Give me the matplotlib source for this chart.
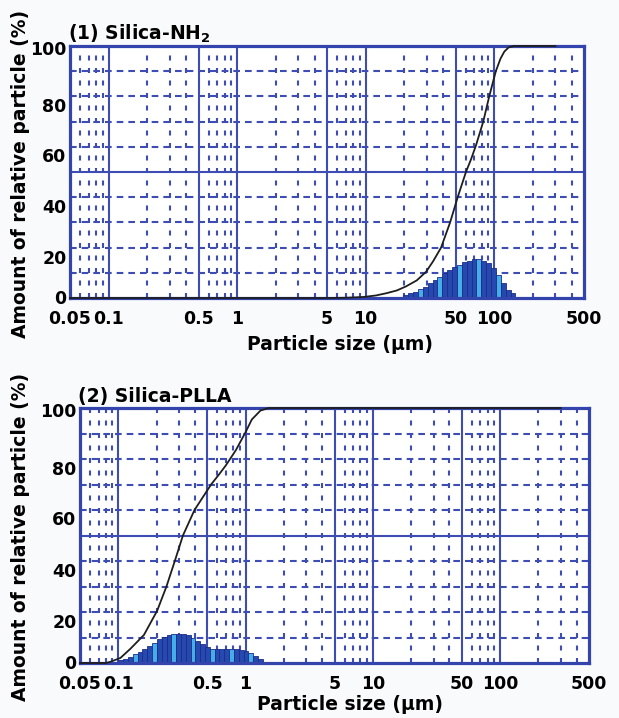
import matplotlib
matplotlib.use("Agg")
import matplotlib.pyplot as plt
import numpy as np

# ---------------- data ----------------
xtick_vals = [0.05, 0.1, 0.5, 1, 5, 10, 50, 100, 500]
xtick_labels = ["0.05", "0.1", "0.5", "1", "5", "10", "50", "100", "500"]
ytick_vals = [0, 20, 40, 60, 80, 100]
ytick_labels = ["0", "20", "40", "60", "80", "100"]

# (1) Silica-NH2 : frequency histogram (size in um, %)
nh2_sizes = [20.5, 22.4, 24.4, 26.6, 29.1, 31.7, 34.6, 37.8, 41.2, 45.0, 49.1, 53.6,
             58.5, 63.8, 69.6, 76.0, 82.9, 90.5, 98.7, 107.7, 117.6, 128.3, 140.0]
nh2_freq = [1.2, 1.85, 2.5, 3.4, 4.5, 5.8, 7.1, 8.5, 9.8, 11.1, 12.2, 13.2,
            14.2, 14.8, 15.3, 15.3, 14.8, 13.8, 11.8, 9.1, 5.8, 3.2, 1.85]
# cumulative curve
nh2_cum_size = [0.05, 5.0, 7.0, 9.6, 12.0, 14.5, 17.5, 20.6, 25.0, 29.5, 33.5, 38.6,
                45.4, 52.0, 60.3, 66.0, 72.1, 82.2, 91.5, 103.0, 112.0, 120.0, 130.0,
                143.0, 300.0]
nh2_cum = [0, 0, 0.1, 0.4, 1.0, 1.9, 3.0, 4.6, 7.0, 10.4, 14.6, 20.0,
           30.0, 40.0, 50.0, 55.0, 60.5, 70.0, 80.0, 90.0, 95.0, 97.8, 99.5,
           100.0, 100.0]

# (2) Silica-PLLA
plla_sizes = [0.104, 0.114, 0.124, 0.136, 0.148, 0.161, 0.176, 0.192, 0.210, 0.229,
              0.250, 0.272, 0.297, 0.324, 0.354, 0.386, 0.421, 0.460, 0.502, 0.547,
              0.597, 0.652, 0.711, 0.776, 0.847, 0.924, 1.008, 1.10, 1.20, 1.31]
plla_freq = [1.2, 1.7, 2.5, 3.4, 4.4, 5.5, 6.7, 8.0, 9.3, 10.3,
             11.0, 11.4, 11.5, 11.4, 10.9, 9.9, 8.8, 7.3, 6.1, 5.5,
             5.4, 5.4, 5.4, 5.4, 5.4, 5.2, 4.8, 3.8, 2.7, 1.7]
plla_cum_size = [0.05, 0.08, 0.087, 0.104, 0.124, 0.159, 0.202, 0.239, 0.278, 0.322,
                 0.397, 0.536, 0.62, 0.70, 0.84, 1.0, 1.12, 1.31, 1.52, 300.0]
plla_cum = [0, 0, 0.5, 2.0, 5.5, 11.0, 20.5, 30.0, 40.0, 50.0,
            60.0, 70.0, 74.0, 77.5, 83.5, 90.5, 95.5, 99.0, 100.0, 100.0]

# ---------------- style ----------------
plt.rcParams["font.family"] = "DejaVu Sans"
plt.rcParams["font.weight"] = "bold"
plt.rcParams["mathtext.default"] = "bf"
plt.rcParams["lines.scale_dashes"] = False

GRID = "#3d4db3"
SPINE = "#3444ad"
BAR_DARK = "#2549ae"
BAR_LIGHT = "#45aee8"
BAR_EDGE = "#1b2d8c"
CURVE = "#1e1e1e"
TICK_FS = 12.5
LAB_FS = 13.5

vgrid_solid = [0.1, 0.5, 1, 5, 10, 50, 100]
vgrid_dash = [0.06, 0.07, 0.08, 0.09, 0.2, 0.3, 0.4, 0.6, 0.7, 0.8, 0.9,
              2, 3, 4, 6, 7, 8, 9, 20, 30, 40, 60, 70, 80, 90, 200, 300, 400]
hgrid_dash = [10, 20, 30, 40, 60, 70, 80, 90]
ylab_offsets = [1, 11, 11, 10, 11, 4]  # px downward shift of y tick labels

W, H = 619, 718
fig = plt.figure(figsize=(W / 100, H / 100), dpi=100, facecolor="#f9fafc")


def panel(rect_px, sizes, freq, cs, cy, title, xlab_pos):
    l, t, r, b = rect_px
    ax = fig.add_axes([l / W, 1 - b / H, (r - l) / W, (b - t) / H])
    ax.set_facecolor("white")
    ax.set_xscale("log")
    ax.set_xlim(0.05, 500)
    ax.set_ylim(0, 100)

    for v in vgrid_solid:
        ax.axvline(v, color=GRID, lw=1.5, zorder=1)
    for v in vgrid_dash:
        ax.axvline(v, color=GRID, lw=1.5, ls=(0, (3.6, 5.4)), zorder=1)
    for h in hgrid_dash:
        ax.axhline(h, color=GRID, lw=1.5, ls=(0, (4.8, 3.6)), zorder=1)
    ax.axhline(50, color=GRID, lw=1.5, zorder=1)

    c = np.array(sizes)
    mids = np.sqrt(c[:-1] * c[1:])
    left = np.r_[c[0] ** 2 / mids[0], mids]
    right = np.r_[mids, c[-1] ** 2 / mids[-1]]
    cols = [BAR_LIGHT if i % 4 == 3 else BAR_DARK for i in range(len(c))]
    ax.bar(left, freq, width=right - left, align="edge", color=cols,
           edgecolor=BAR_EDGE, lw=0.6, zorder=2)

    ax.plot(cs, cy, color=CURVE, lw=1.3, zorder=4, clip_on=False)

    for s in ax.spines.values():
        s.set_color(SPINE)
        s.set_linewidth(2.3)

    ax.minorticks_off()
    ax.set_xticks(xtick_vals)
    ax.set_xticklabels(xtick_labels, fontsize=TICK_FS, fontweight="bold")
    ax.set_yticks([])
    ax.tick_params(axis="x", length=0, pad=8.5)
    ax.minorticks_off()

    for v, lbl, off in zip(ytick_vals, ytick_labels, ylab_offsets):
        ax.annotate(lbl, xy=(0, v), xycoords=("axes fraction", "data"),
                    xytext=(-2.5, -off * 0.72), textcoords="offset points",
                    ha="right", va="center", fontsize=TICK_FS, fontweight="bold",
                    annotation_clip=False)

    ax.annotate(title, xy=(0, 1), xycoords="axes fraction", xytext=(-1.5, 4.3),
                textcoords="offset points", ha="left", va="baseline",
                fontsize=LAB_FS, fontweight="bold")

    ax.set_xlabel("Particle size (µm)", fontsize=LAB_FS, fontweight="bold")
    ax.xaxis.set_label_coords(*xlab_pos)
    return ax


ax1 = panel((70, 46, 584, 298), nh2_sizes, nh2_freq, nh2_cum_size, nh2_cum,
            "(1) Silica-NH$_2$", (0.525, -0.145))
ax2 = panel((80, 408, 589, 663), plla_sizes, plla_freq, plla_cum_size, plla_cum,
            "(2) Silica-PLLA", (0.53, -0.125))

fig.text(21 / W, 1 - 174 / H, "Amount of relative particle (%)", rotation=90,
         ha="center", va="center", fontsize=LAB_FS, fontweight="bold")
fig.text(21 / W, 1 - 537 / H, "Amount of relative particle (%)", rotation=90,
         ha="center", va="center", fontsize=LAB_FS, fontweight="bold")

fig.savefig("out.png", dpi=100, facecolor=fig.get_facecolor())
